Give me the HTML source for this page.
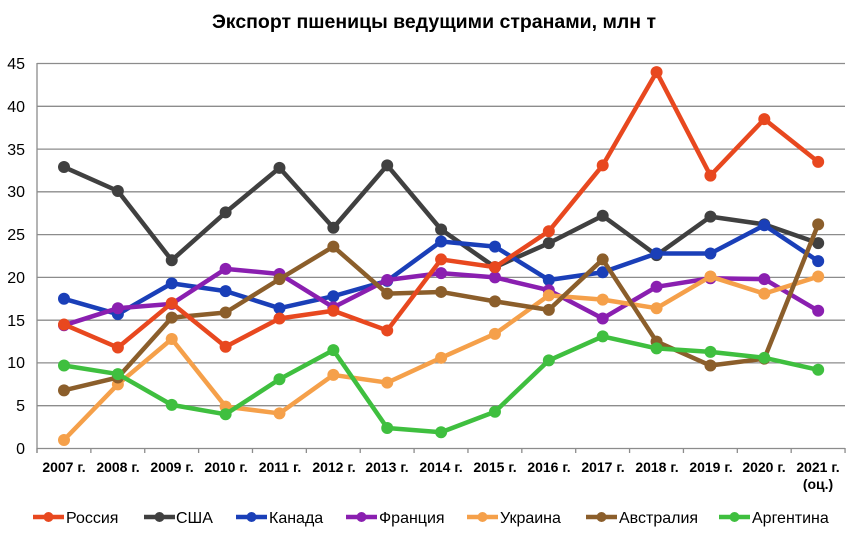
<!DOCTYPE html>
<html><head><meta charset="utf-8"><style>
body{margin:0;background:#fff;}
svg{display:block;font-family:"Liberation Sans",Arial,sans-serif;}
</style></head><body>
<svg id="c" width="858" height="540" viewBox="0 0 858 540" xmlns="http://www.w3.org/2000/svg">
<text x="434" y="28" text-anchor="middle" font-size="19.5" font-weight="bold" fill="#000">Экспорт пшеницы ведущими странами, млн т</text>
<g stroke="#8c8c8c" stroke-width="1.3">
<line x1="37" y1="63.5" x2="845" y2="63.5"/><line x1="37" y1="106.3" x2="845" y2="106.3"/>
<line x1="37" y1="149.1" x2="845" y2="149.1"/><line x1="37" y1="191.8" x2="845" y2="191.8"/>
<line x1="37" y1="234.6" x2="845" y2="234.6"/><line x1="37" y1="277.4" x2="845" y2="277.4"/>
<line x1="37" y1="320.2" x2="845" y2="320.2"/><line x1="37" y1="362.9" x2="845" y2="362.9"/>
<line x1="37" y1="405.7" x2="845" y2="405.7"/><line x1="37" y1="448.5" x2="845" y2="448.5"/>
<line x1="37" y1="63" x2="37" y2="453"/>
</g>
<g id="ticks" stroke="#8c8c8c" stroke-width="1.3"></g>
<g font-size="16" fill="#000" text-anchor="end">
<text x="25" y="69">45</text><text x="25" y="112">40</text><text x="25" y="155">35</text>
<text x="25" y="197">30</text><text x="25" y="240">25</text><text x="25" y="283">20</text>
<text x="25" y="326">15</text><text x="25" y="368">10</text><text x="25" y="411">5</text>
<text x="25" y="454">0</text></g>
<g font-size="14" font-weight="bold" fill="#000" text-anchor="middle">
<text x="64" y="472">2007 г.</text><text x="118" y="472">2008 г.</text><text x="172" y="472">2009 г.</text>
<text x="226" y="472">2010 г.</text><text x="280" y="472">2011 г.</text><text x="334" y="472">2012 г.</text>
<text x="387" y="472">2013 г.</text><text x="441" y="472">2014 г.</text><text x="495" y="472">2015 г.</text>
<text x="549" y="472">2016 г.</text><text x="603" y="472">2017 г.</text><text x="657" y="472">2018 г.</text>
<text x="711" y="472">2019 г.</text><text x="764" y="472">2020 г.</text><text x="818" y="472">2021 г.</text>
<text x="818" y="489">(оц.)</text></g>
<g id="series"></g>
<g font-size="16" fill="#000" id="legend">
<text x="66" y="523">Россия</text><text x="176" y="523">США</text><text x="269" y="523">Канада</text>
<text x="379" y="523">Франция</text><text x="500" y="523">Украина</text><text x="619" y="523">Австралия</text>
<text x="752" y="523">Аргентина</text></g>
</svg>
<script>
var ns="http://www.w3.org/2000/svg";
var S=[
["#404040",[32.9,30.1,22,27.6,32.8,25.8,33.1,25.6,21.2,24,27.2,22.6,27.1,26.2,24],144],
["#1a3fb8",[17.5,15.7,19.3,18.4,16.4,17.8,19.6,24.2,23.6,19.7,20.6,22.8,22.8,26.1,21.9],236],
["#8a1fb0",[14.4,16.4,16.9,21,20.4,16.5,19.7,20.5,20,18.5,15.2,18.9,19.9,19.8,16.1],346],
["#f5a04a",[1,7.5,12.8,4.9,4.1,8.6,7.7,10.6,13.4,17.9,17.4,16.4,20.1,18.1,20.1],467],
["#8b5e2b",[6.8,8.3,15.3,15.9,19.8,23.6,18.1,18.3,17.2,16.2,22.1,12.5,9.7,10.5,26.2],586],
["#3fbf3f",[9.7,8.7,5.1,4,8.1,11.5,2.4,1.9,4.3,10.3,13.1,11.7,11.3,10.6,9.2],719],
["#e8481f",[14.5,11.8,17,11.9,15.2,16.1,13.8,22.1,21.2,25.4,33.1,44,31.9,38.5,33.5],33]
];
var g=document.getElementById("series"),t=document.getElementById("ticks");
for(var i=0;i<=15;i++){var l=document.createElementNS(ns,"line");var x=37+i*53.87;l.setAttribute("x1",x);l.setAttribute("x2",x);l.setAttribute("y1",448);l.setAttribute("y2",453);t.appendChild(l);}
function X(i){return 64+i*53.87;}function Y(v){return 448.5-v*8.555;}
S.forEach(function(s){
 var p=document.createElementNS(ns,"polyline");
 p.setAttribute("points",s[1].map(function(v,i){return X(i)+","+Y(v);}).join(" "));
 p.setAttribute("fill","none");p.setAttribute("stroke",s[0]);p.setAttribute("stroke-width",4.5);p.setAttribute("stroke-linejoin","round");
 g.appendChild(p);
 s[1].forEach(function(v,i){var c=document.createElementNS(ns,"circle");c.setAttribute("cx",X(i));c.setAttribute("cy",Y(v));c.setAttribute("r",6);c.setAttribute("fill",s[0]);g.appendChild(c);});
 var ll=document.createElementNS(ns,"line");ll.setAttribute("x1",s[2]);ll.setAttribute("x2",s[2]+31);ll.setAttribute("y1",517);ll.setAttribute("y2",517);ll.setAttribute("stroke",s[0]);ll.setAttribute("stroke-width",4.5);g.appendChild(ll);
 var lc=document.createElementNS(ns,"circle");lc.setAttribute("cx",s[2]+15.5);lc.setAttribute("cy",517);lc.setAttribute("r",5);lc.setAttribute("fill",s[0]);g.appendChild(lc);
});
</script>
</body></html>
